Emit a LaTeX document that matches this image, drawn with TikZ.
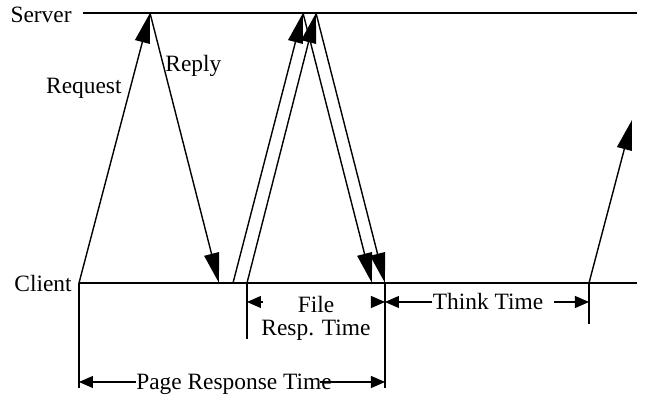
\documentclass[tikz,border=0pt]{standalone}
\usepackage{fontspec}
\setmainfont{Liberation Serif}
\usetikzlibrary{arrows.meta}
\begin{document}
\begin{tikzpicture}[x=0.5pt,y=-0.5pt,
  timeline/.style={line width=1.15pt},
  msg/.style={line width=0.7pt,-{Triangle[length=15pt,width=7.5pt]}},
  tick/.style={line width=0.55pt},
  dimarrow/.style={line width=0.55pt,-{Triangle[length=7pt,width=6pt]}},
  lbl/.style={inner sep=0pt,font=\fontsize{11.7}{12}\selectfont}]
\useasboundingbox (0,0) rectangle (645,399);
% event points
\coordinate (sL) at (83,13);
\coordinate (sR) at (637,13);
\coordinate (cL) at (79,283);
\coordinate (cR) at (637,283);
\coordinate (s1) at (150,13);
\coordinate (c0) at (79,283);
\coordinate (c1) at (219,283);
\coordinate (c2) at (233,283);
\coordinate (c3) at (247,283);
\coordinate (s2) at (303,13);
\coordinate (s3) at (316,13);
\coordinate (c4) at (372,283);
\coordinate (c5) at (385,283);
\coordinate (c6) at (589,283);
\coordinate (t) at (632,120);
% labels
\node[lbl,anchor=base east] (server) at (72,23) {Server};
\node[lbl,anchor=base east] (client) at (72,292) {Client};
\node[lbl,anchor=base east] (request) at (122,94) {Request};
\node[lbl,anchor=base west] (reply) at (165,72) {Reply};
% timelines
\draw[timeline] (sL) -- (sR);
\draw[timeline] (cL) -- (cR);
% messages
\draw[msg] (c0) -- (s1);
\draw[msg] (s1) -- (c1);
\draw[msg] (c2) -- (s2);
\draw[msg] (c3) -- (s3);
\draw[msg] (s2) -- (c4);
\draw[msg] (s3) -- (c5);
\draw[msg] (c6) -- (t);
% ticks
\coordinate (v0) at (79,388);
\coordinate (v3) at (247,339);
\coordinate (v5) at (385,388);
\coordinate (v6) at (589,324);
\draw[tick] (c0) -- (v0);
\draw[tick] (c3) -- (v3);
\draw[tick] (c5) -- (v5);
\draw[tick] (c6) -- (v6);
% file response time
\coordinate (fl) at (247,302);
\coordinate (fla) at (263,302);
\coordinate (fr) at (385,302);
\coordinate (fra) at (371,302);
\draw[dimarrow] (fla) -- (fl);
\draw[dimarrow] (fra) -- (fr);
\node[lbl,align=center,font=\fontsize{11.7}{11.6}\selectfont] (file) at (316,318) {File\\Resp. Time};
% think time
\node[lbl,anchor=base] (think) at (488,310) {Think Time};
\coordinate (tl) at (385,302);
\coordinate (tr) at (589,302);
\draw[dimarrow] (think.west |- tl) -- (tl);
\draw[dimarrow] ([xshift=5]think.east |- tr) -- (tr);
% page response time
\node[lbl,anchor=base] (page) at (234,390) {Page Response Time};
\coordinate (pl) at (79,382);
\coordinate (pr) at (385,382);
\draw[dimarrow] (page.west |- pl) -- (pl);
\draw[dimarrow] ([xshift=-6]page.east |- pr) -- (pr);
\end{tikzpicture}
\end{document}
